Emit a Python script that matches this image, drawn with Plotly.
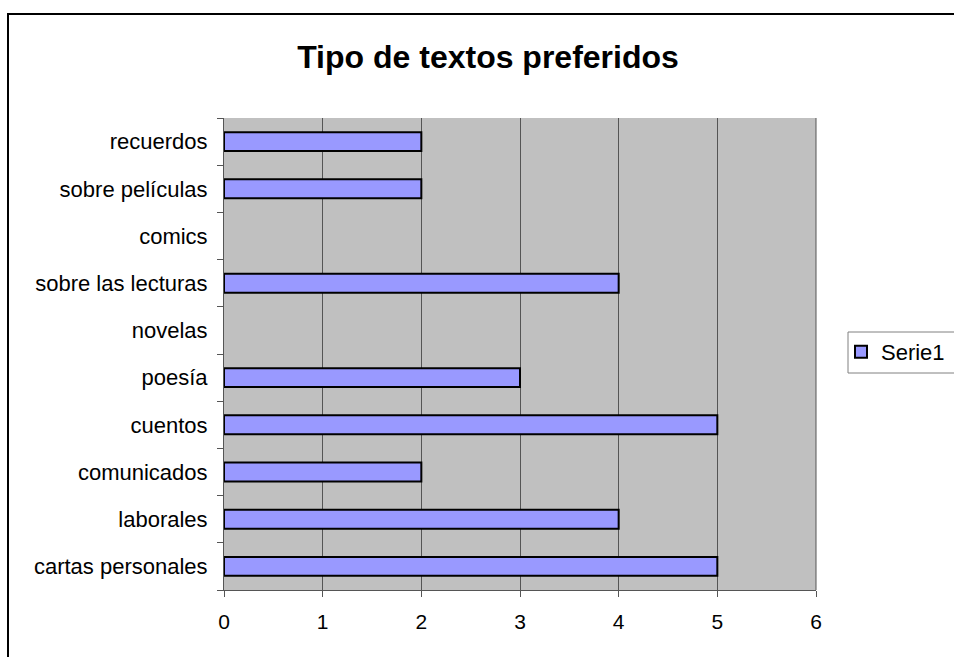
import plotly.graph_objects as go

categories = ["cartas personales", "laborales", "comunicados", "cuentos", "poesía",
              "novelas", "sobre las lecturas", "comics", "sobre películas", "recuerdos"]
values = [5, 4, 2, 5, 3, 0, 4, 0, 2, 2]
x_ticks = [0, 1, 2, 3, 4, 5, 6]
series_name = "Serie1"
title_text = "Tipo de textos preferidos"

W, H = 954, 657
L, R, T, B = 224, 816, 118, 590

def px_x(p):
    return (p - L) / (R - L)

def px_y(p):
    return (B - p) / (B - T)

fig = go.Figure()
fig.add_trace(go.Bar(
    y=categories, x=[v if v else None for v in values], orientation="h", name=series_name,
    marker=dict(color="#9999FF", line=dict(color="black", width=2)),
    showlegend=True,
))

font = "Liberation Sans, Arial, sans-serif"
fig.update_layout(
    width=W, height=H,
    margin=dict(l=L, r=W - R, t=T, b=H - B, autoexpand=False),
    paper_bgcolor="white", plot_bgcolor="#C0C0C0",
    bargap=0.6,
    font=dict(family=font, size=22, color="black"),
    title=dict(text="<b>" + title_text + "</b>", x=px_x(488), xref="paper", xanchor="center",
               y=1 - 57 / H, yref="container", yanchor="middle",
               font=dict(size=32, family=font, color="black")),
    showlegend=True,
    legend=dict(x=px_x(841), y=px_y(331), xanchor="left", yanchor="top",
                borderwidth=0, bgcolor="rgba(0,0,0,0)",
                font=dict(size=22, family=font), itemwidth=30),
    xaxis=dict(range=[0, 6], tickvals=x_ticks, showgrid=True, gridcolor="#555555", gridwidth=1,
               ticks="outside", ticklen=6, tickcolor="#555555", zeroline=False,
               showline=True, linecolor="#555555", linewidth=1, fixedrange=True,
               ticklabelstandoff=7, tickfont=dict(size=21)),
    yaxis=dict(categoryorder="array", categoryarray=categories, ticks="outside",
               tickson="boundaries", ticklen=6, tickcolor="#555555", showgrid=False,
               showline=True, linecolor="#555555", linewidth=1, fixedrange=True,
               ticklabelstandoff=11, tickfont=dict(size=22)),
)

fig.add_shape(type="line", xref="paper", yref="paper", x0=1, x1=1, y0=0, y1=1,
              line=dict(color="#555555", width=1))
fig.add_shape(type="rect", xref="paper", yref="paper",
              x0=px_x(848), x1=px_x(990), y0=px_y(332), y1=px_y(373),
              line=dict(color="#808080", width=1), fillcolor="rgba(0,0,0,0)", layer="above")
fig.add_shape(type="rect", xref="paper", yref="paper",
              x0=px_x(8), x1=px_x(980), y0=px_y(14), y1=px_y(690),
              line=dict(color="black", width=2), fillcolor="rgba(0,0,0,0)", layer="above")

fig.write_html("out.html", config={"displayModeBar": False},
               post_script="document.body.style.margin='0';document.body.style.overflow='hidden';")
